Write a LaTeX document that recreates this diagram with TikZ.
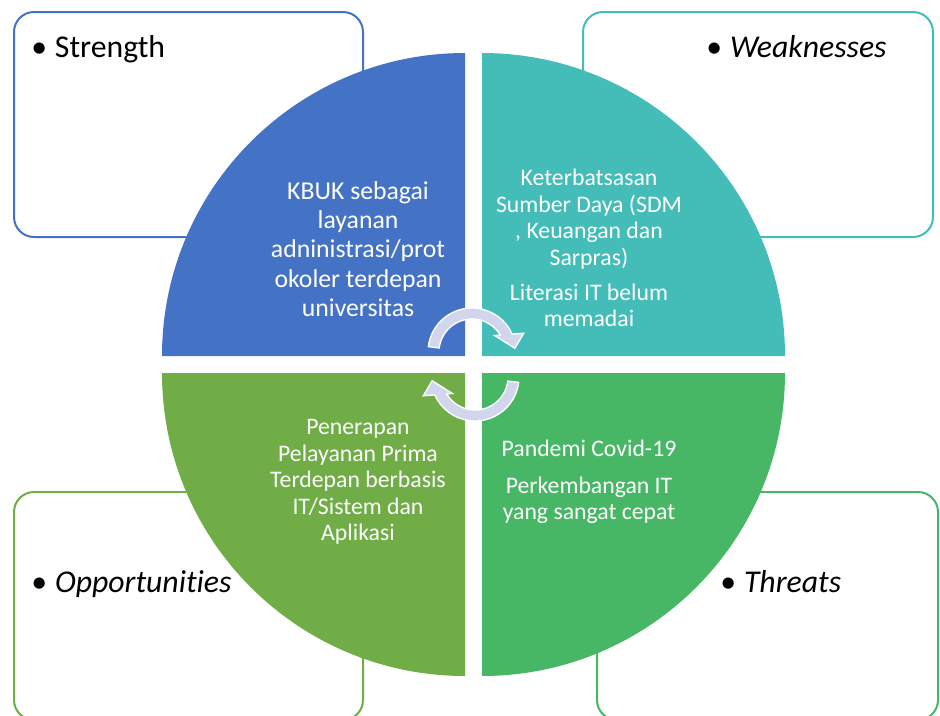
\documentclass[tikz,border=0pt]{standalone}
\usepackage{fontspec}
\setmainfont{Carlito}[Ligatures=NoCommon]
\usetikzlibrary{positioning}

\definecolor{swotblue}{RGB}{68,114,196}
\definecolor{swotteal}{RGB}{68,189,185}
\definecolor{swotgreen}{RGB}{112,173,71}
\definecolor{swotmint}{RGB}{71,183,102}
\definecolor{arrowfill}{RGB}{210,214,236}

\begin{document}
\begin{tikzpicture}[x=0.75pt,y=-0.75pt,
                    box/.style={line width=1.5pt,rounded corners=15pt},
                    quad text/.style={text=white,align=center,inner sep=0pt,
                                      font=\fontsize{17.8}{19.8}\selectfont},
                    big text/.style={quad text,font=\fontsize{19.3}{21.9}\selectfont},
                    label/.style={anchor=base west,inner sep=0pt,
                                  font=\fontsize{23.8}{28}\selectfont},
                    cycle arrow/.style={fill=arrowfill,draw=white,line width=1pt,line join=miter}
                   ]
  \useasboundingbox (0,0) rectangle (940,715);

  % outer boxes
  \draw[box,swotblue]  (14,12)  rectangle (363,237);
  \draw[box,swotteal]  (583,12) rectangle (933,237);
  \draw[box,swotgreen] (14,492) rectangle (363,720);
  \draw[box,swotmint]  (597,492) rectangle (938,720);

  % the four quarters
  \fill[swotblue]  (465,356) -- (162,356) arc[start angle=180,end angle=270,radius=303] -- cycle;
  \fill[swotteal]  (482,356) -- (482,53)  arc[start angle=270,end angle=360,radius=303] -- cycle;
  \fill[swotmint]  (482,373) -- (785,373) arc[start angle=0,end angle=90,radius=303] -- cycle;
  \fill[swotgreen] (465,373) -- (465,676) arc[start angle=90,end angle=180,radius=303] -- cycle;

  % circular arrows
  \begin{scope}[shift={(472,352)}]
    \path[cycle arrow] (187:44) arc[start angle=187,end angle=336,radius=44]
      -- (340:55) -- (355:43) -- (324:28) -- (329:33)
      arc[start angle=329,end angle=187,radius=33] -- cycle;
  \end{scope}
  \begin{scope}[shift={(475,377)},rotate=180]
    \path[cycle arrow] (187:44) arc[start angle=187,end angle=336,radius=44]
      -- (340:55) -- (355:43) -- (324:28) -- (329:33)
      arc[start angle=329,end angle=187,radius=33] -- cycle;
  \end{scope}

  % texts in the quarters
  \node[big text] (strength text) at (358,249)
    {KBUK sebagai\\layanan\\adninistrasi/prot\\okoler terdepan\\universitas};
  \node[quad text] (weakness text) at (589,248)
    {Keterbatsasan\\Sumber Daya (SDM\\, Keuangan dan\\Sarpras)\\[6.5pt]Literasi IT belum\\memadai};
  \node[quad text] (opportunity text) at (358,482)
    {Penerapan\\Pelayanan Prima\\Terdepan berbasis\\IT/Sistem dan\\Aplikasi};
  \node[quad text] (threat text) at (589,482)
    {Pandemi Covid-19\\[7.5pt]Perkembangan IT\\yang sangat cepat};

  % box labels
  \node[label] (strength)    at (31,57)  {•\hspace{0.25em}Strength};
  \node[label] (weakness)    at (706,57) {•\hspace{0.25em}\textit{Weaknesses}};
  \node[label] (opportunity) at (31,592) {•\hspace{0.25em}\textit{Opportunities}};
  \node[label] (threat)      at (720,592) {•\hspace{0.25em}\textit{Threats}};
\end{tikzpicture}
\end{document}
